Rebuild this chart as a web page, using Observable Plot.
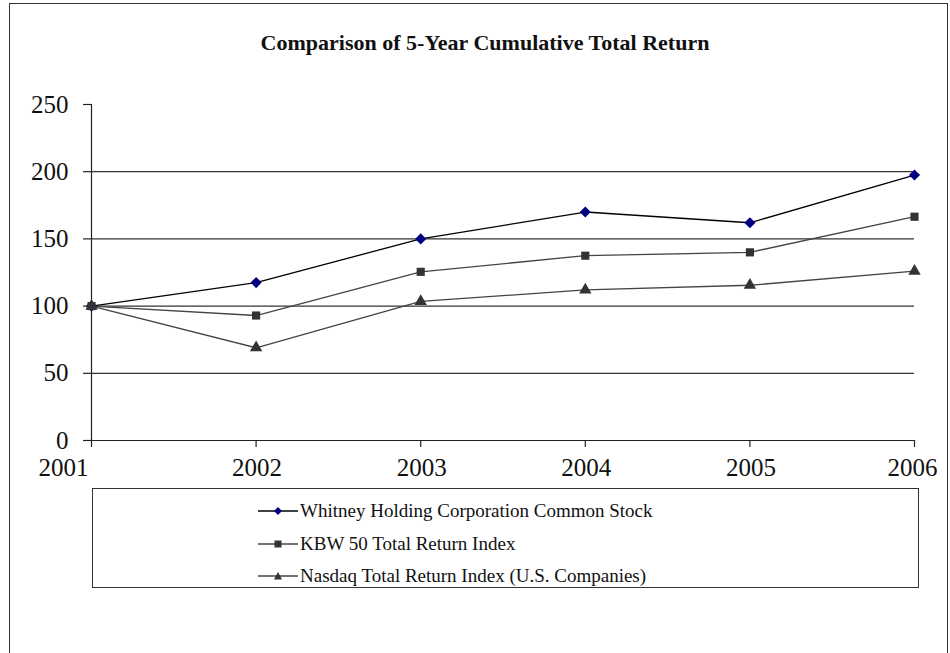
<!DOCTYPE html>
<html>
<head>
<meta charset="utf-8">
<script src="https://cdn.jsdelivr.net/npm/d3@7"></script>
<script src="https://cdn.jsdelivr.net/npm/@observablehq/plot@0.6"></script>
<style>
  body { margin: 0; background: #fff; }
  #wrap { position: relative; width: 950px; height: 653px; overflow: hidden; font-family: 'Liberation Serif', serif; }
  #frame { position: absolute; left: 9px; top: 3px; width: 939px; height: 652px; border: 1px solid #333; border-bottom: none; box-sizing: border-box; }
  #title { position: absolute; left: 0; width: 970px; top: 30px; text-align: center; font-family: 'Liberation Serif', serif; font-weight: bold; font-size: 22px; color: #111; }
  #chart { position: absolute; left: 0; top: 90px; }
  #legend { position: absolute; left: 92px; top: 488px; width: 827px; height: 100px; border: 1px solid #333; box-sizing: border-box; }
  .item { position: absolute; left: 165px; height: 24px; display: flex; align-items: center; font-family: 'Liberation Serif', serif; font-size: 19px; color: #111; white-space: nowrap; }
  .item svg { margin-right: 2px; }
</style>
</head>
<body>
<div id="wrap">
  <div id="frame"></div>
  <div id="title">Comparison of 5-Year Cumulative Total Return</div>
  <div id="chart"></div>
  <div id="legend"></div>
</div>
<script>
const years = [2001, 2002, 2003, 2004, 2005, 2006];
const seriesNames = [
  "Whitney Holding Corporation Common Stock",
  "KBW 50 Total Return Index",
  "Nasdaq Total Return Index (U.S. Companies)"
];
const whitney = [100, 117.5, 150, 170, 162, 197.5];
const kbw = [100, 93, 125.5, 137.5, 140, 166.5];
const nasdaq = [100, 69, 103.5, 112, 115.5, 126];
const yTicks = [0, 50, 100, 150, 200, 250];
const gridValues = [50, 100, 150, 200];

const symbols = ["diamond2", "square", "triangle"];
const fills = ["#000080", "#333333", "#333333"];
const strokes = ["#000", "#444", "#444"];
const allValues = [whitney, kbw, nasdaq];

const chart = Plot.plot({
  width: 950,
  height: 400,
  marginLeft: 91,
  marginRight: 36,
  marginTop: 14,
  marginBottom: 50,
  style: "font-family: 'Liberation Serif', serif; color: #111; background: transparent;",
  x: {type: "linear", domain: [2001, 2006], axis: null},
  y: {domain: [0, 250], axis: null},
  marks: [
    Plot.ruleY(gridValues, {x1: 2001, x2: 2006, stroke: "#333", strokeWidth: 1.2}),
    Plot.axisY(yTicks, {tickSize: 8, tickPadding: 15, fontSize: 25, fontFamily: "Liberation Serif", stroke: "#222", strokeWidth: 1.2, label: null}),
    Plot.ruleX([2001], {y1: 0, y2: 250, stroke: "#222", strokeWidth: 1.2}),
    Plot.ruleY([0], {x1: 2001, x2: 2006, stroke: "#222", strokeWidth: 1.2}),
    Plot.axisX(years, {tickSize: 7, tickFormat: () => "", stroke: "#222", strokeWidth: 1.2, label: null}),
    Plot.text(years.slice(0, 1), {x: d => d, y: 0, text: d => String(d), dy: 27, dx: -28, fontSize: 25, fontFamily: "Liberation Serif", fill: "#111"}),
    Plot.text(years.slice(1, 5), {x: d => d, y: 0, text: d => String(d), dy: 27, dx: 1, fontSize: 25, fontFamily: "Liberation Serif", fill: "#111"}),
    Plot.text(years.slice(5), {x: d => d, y: 0, text: d => String(d), dy: 27, dx: -2, fontSize: 25, fontFamily: "Liberation Serif", fill: "#111"}),
    ...allValues.map((vals, i) => Plot.line(years.map((y, j) => ({year: y, value: vals[j]})), {
      x: "year", y: "value", stroke: strokes[i], strokeWidth: 1.3
    })),
    ...allValues.map((vals, i) => Plot.dot(years.map((y, j) => ({year: y, value: vals[j]})), {
      x: "year", y: "value", symbol: () => symbols[i], fill: fills[i], stroke: "none", r: i === 0 ? 5 : 4.6
    }))
  ]
});
document.getElementById("chart").appendChild(chart);

// Legend (HTML with small inline symbols)
const legend = document.getElementById("legend");
const rowTops = [10, 43, 75];
const symbolPaths = [
  '<path d="M20,8 L24,12 L20,16 L16,12 Z" fill="#000080"/>',
  '<rect x="16.5" y="8.5" width="7" height="7" fill="#333"/>',
  '<path d="M20,8 L24,15.5 L16,15.5 Z" fill="#333"/>'
];
seriesNames.forEach((name, i) => {
  const d = document.createElement("div");
  d.className = "item";
  d.style.top = rowTops[i] + "px";
  d.innerHTML = '<svg width="40" height="24"><line x1="0" y1="12" x2="40" y2="12" stroke="' + strokes[i] + '" stroke-width="1.3"/>' + symbolPaths[i] + '</svg><span>' + name + '</span>';
  legend.appendChild(d);
});
</script>
</body>
</html>
